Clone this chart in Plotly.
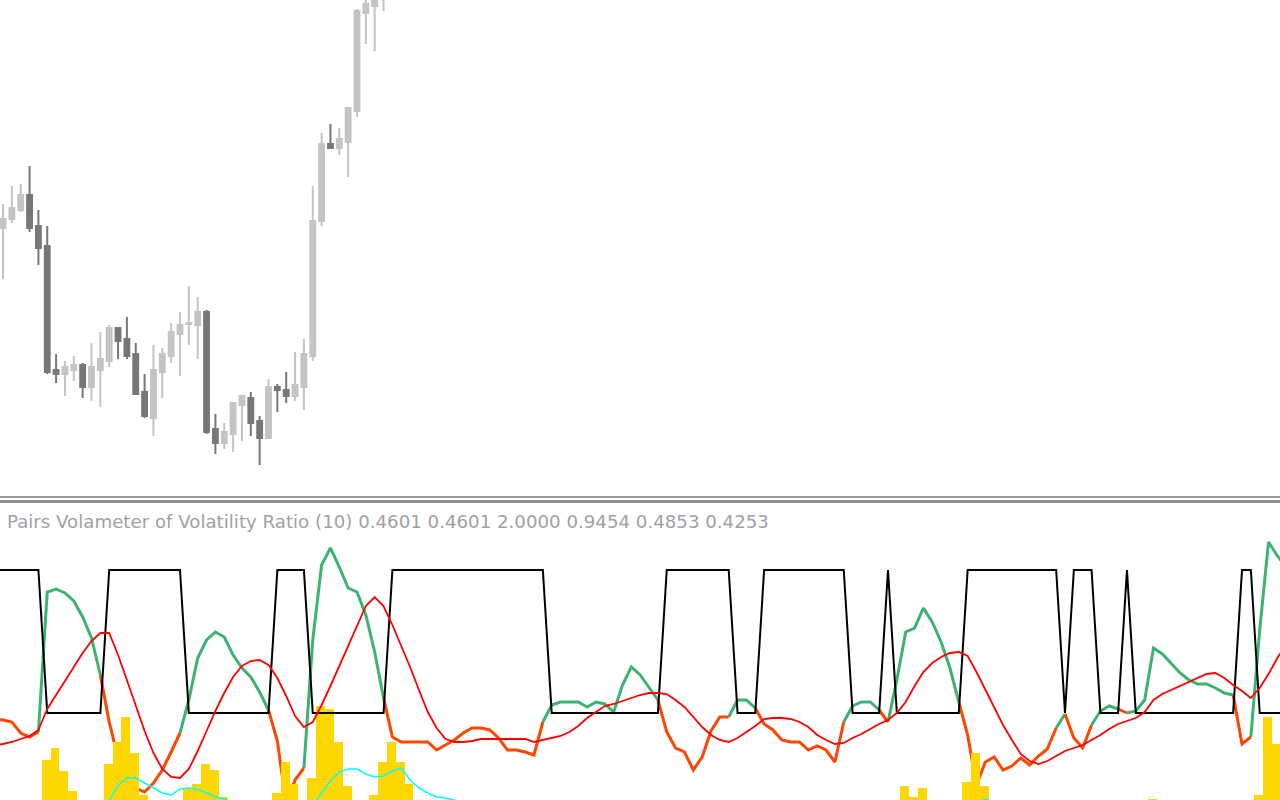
import plotly.graph_objects as go

# ---------------- data ----------------
# bar index -1 .. 145 (bars -1 and 145 sit just outside the window edges)
bars = list(range(-1, 146))
n_bars = len(bars)

# price candles (visible part of the main chart), bars 0..43
c_open = [1.1272, 1.1281, 1.1290, 1.1305, 1.1274, 1.1254, 1.1130, 1.1126, 1.1130, 1.1135,
          1.1113, 1.1130, 1.1139, 1.1172, 1.1161, 1.1146, 1.1108, 1.1082, 1.1128, 1.1144,
          1.1166, 1.1176, 1.1175, 1.1188, 1.1071, 1.1057, 1.1066, 1.1095, 1.1102, 1.1079,
          1.1062, 1.1113, 1.1110, 1.1104, 1.1113, 1.1144, 1.1279, 1.1356, 1.1352, 1.1358,
          1.1389, 1.1487, 1.1494, 1.1508]
c_high = [1.1296, 1.1314, 1.1316, 1.1334, 1.1290, 1.1274, 1.1146, 1.1139, 1.1144, 1.1137,
          1.1157, 1.1168, 1.1175, 1.1172, 1.1183, 1.1157, 1.1126, 1.1155, 1.1152, 1.1177,
          1.1188, 1.1214, 1.1203, 1.1190, 1.1086, 1.1077, 1.1097, 1.1104, 1.1108, 1.1084,
          1.1121, 1.1116, 1.1128, 1.1148, 1.1161, 1.1314, 1.1367, 1.1376, 1.1372, 1.1392,
          1.1491, 1.1505, 1.1512, 1.1530]
c_low = [1.1221, 1.1277, 1.1288, 1.1268, 1.1235, 1.1126, 1.1117, 1.1104, 1.1119, 1.1102,
         1.1099, 1.1093, 1.1133, 1.1141, 1.1141, 1.1106, 1.1082, 1.1064, 1.1102, 1.1137,
         1.1124, 1.1155, 1.1141, 1.1066, 1.1046, 1.1051, 1.1048, 1.1059, 1.1064, 1.1035,
         1.1062, 1.1088, 1.1097, 1.1099, 1.1090, 1.1139, 1.1274, 1.1352, 1.1345, 1.1323,
         1.1383, 1.1456, 1.1449, 1.1489]
c_close = [1.1281, 1.1292, 1.1305, 1.1272, 1.1252, 1.1128, 1.1126, 1.1133, 1.1135, 1.1113,
           1.1133, 1.1141, 1.1172, 1.1159, 1.1144, 1.1106, 1.1084, 1.1130, 1.1146, 1.1168,
           1.1175, 1.1177, 1.1188, 1.1068, 1.1057, 1.1068, 1.1097, 1.1104, 1.1077, 1.1062,
           1.1113, 1.1110, 1.1104, 1.1115, 1.1146, 1.1279, 1.1356, 1.1352, 1.1361, 1.1392,
           1.1489, 1.1496, 1.1502, 1.1520]

# indicator: regime (black step line)
H, L = 2.30, 0.87
regime = [H,
          H, H, H, H, H,
          L, L, L, L, L, L, L,
          H, H, H, H, H, H, H, H, H,
          L, L, L, L, L, L, L, L, L, L,
          H, H, H, H,
          L, L, L, L, L, L, L, L, L,
          H, H, H, H, H, H, H, H, H, H, H, H, H, H, H, H, H, H,
          L, L, L, L, L, L, L, L, L, L, L, L, L,
          H, H, H, H, H, H, H, H,
          L, L, L,
          H, H, H, H, H, H, H, H, H, H,
          L, L, L, L,
          H,
          L, L, L, L, L, L, L, L,
          H, H, H, H, H, H, H, H, H, H, H,
          L,
          H, H, H,
          L, L, L,
          H,
          L, L, L, L, L, L, L, L, L, L, L, L,
          H, H,
          L, L, L,
          L]

# indicator: main ratio line (green in low regime, orange-red in high regime)
ratio = [0.81,
         0.80, 0.78, 0.67, 0.63, 0.68, 2.08, 2.11, 2.07, 1.99, 1.83,
         1.62, 1.25, 0.78, 0.42, 0.25, 0.12, 0.08, 0.17, 0.30, 0.48,
         0.67, 1.00, 1.42, 1.60, 1.68, 1.63, 1.45, 1.32, 1.23, 1.08,
         0.90, 0.59, -0.04, 0.20, 0.32, 1.60, 2.35, 2.52, 2.33, 2.12,
         2.08, 1.85, 1.48, 1.02, 0.63, 0.58, 0.58, 0.58, 0.58, 0.50,
         0.55, 0.60, 0.67, 0.72, 0.72, 0.70, 0.62, 0.50, 0.50, 0.48,
         0.45, 0.78, 0.95, 0.98, 0.98, 0.98, 0.93, 0.98, 0.96, 0.88,
         1.15, 1.33, 1.25, 1.12, 1.00, 0.68, 0.52, 0.48, 0.30, 0.43,
         0.69, 0.83, 0.83, 1.00, 1.00, 0.92, 0.76, 0.70, 0.60, 0.58,
         0.58, 0.50, 0.54, 0.50, 0.38, 0.78, 0.94, 0.98, 0.98, 0.90,
         0.78, 1.20, 1.68, 1.72, 1.92, 1.78, 1.58, 1.32, 0.98, 0.65,
         0.15, 0.38, 0.43, 0.30, 0.34, 0.42, 0.35, 0.44, 0.51, 0.72,
         0.86, 0.62, 0.52, 0.75, 0.89, 0.94, 0.91, 0.87, 0.89, 1.00,
         1.52, 1.46, 1.36, 1.27, 1.20, 1.16, 1.16, 1.12, 1.07, 1.05,
         0.56, 0.63, 1.70, 2.58, 2.44,
         2.33]

# indicator: smoothed signal (thin red)
signal = [0.55,
          0.56, 0.58, 0.61, 0.64, 0.70, 0.91, 1.05, 1.19, 1.33, 1.47,
          1.59, 1.67, 1.67, 1.45, 1.20, 0.94, 0.69, 0.47, 0.31, 0.23,
          0.22, 0.31, 0.49, 0.69, 0.89, 1.07, 1.23, 1.34, 1.39, 1.40,
          1.35, 1.22, 1.04, 0.84, 0.73, 0.78, 0.95, 1.14, 1.34, 1.55,
          1.74, 1.94, 2.03, 1.94, 1.75, 1.54, 1.33, 1.10, 0.88, 0.72,
          0.61, 0.58, 0.58, 0.59, 0.61, 0.61, 0.61, 0.61, 0.61, 0.61,
          0.58, 0.60, 0.62, 0.64, 0.68, 0.74, 0.82, 0.88, 0.94, 0.96,
          0.99, 1.02, 1.05, 1.07, 1.07, 1.06, 1.00, 0.93, 0.83, 0.73,
          0.65, 0.60, 0.58, 0.62, 0.68, 0.74, 0.81, 0.82, 0.82, 0.81,
          0.78, 0.73, 0.65, 0.60, 0.56, 0.57, 0.62, 0.66, 0.71, 0.76,
          0.80, 0.87, 0.98, 1.14, 1.28, 1.37, 1.43, 1.47, 1.48, 1.44,
          1.28, 1.10, 0.93, 0.75, 0.60, 0.46, 0.39, 0.36, 0.39, 0.44,
          0.49, 0.52, 0.55, 0.60, 0.65, 0.71, 0.76, 0.79, 0.82, 0.88,
          1.00, 1.06, 1.10, 1.14, 1.18, 1.22, 1.26, 1.27, 1.22, 1.15,
          1.09, 1.02, 1.12, 1.26, 1.42,
          1.56]

# indicator: volume line (cyan, mostly below the visible window)
volume_line = [-0.24,
               -0.25, -0.27, -0.28, -0.27, -0.24, -0.22, -0.20, -0.20, -0.21, -0.19,
               -0.15, -0.10, -0.01, 0.15, 0.22, 0.22, 0.17, 0.12, 0.07, 0.05,
               0.11, 0.12, 0.11, 0.07, 0.03, 0.01, -0.03, -0.08, -0.12, -0.15,
               -0.16, -0.15, -0.13, -0.12, -0.12, -0.07, 0.07, 0.19, 0.28, 0.31,
               0.31, 0.26, 0.23, 0.24, 0.29, 0.32, 0.20, 0.12, 0.07, 0.03,
               0.02, 0.00, -0.05, -0.08, -0.11, -0.13, -0.15, -0.16, -0.17, -0.17,
               -0.16, -0.14, -0.13, -0.13, -0.14, -0.15, -0.15, -0.14, -0.12, -0.11,
               -0.11, -0.12, -0.14, -0.16, -0.17, -0.15, -0.12, -0.10, -0.09, -0.10,
               -0.12, -0.14, -0.15, -0.16, -0.17, -0.17, -0.15, -0.13, -0.12, -0.12,
               -0.13, -0.14, -0.14, -0.13, -0.11, -0.10, -0.11, -0.13, -0.14, -0.13,
               -0.11, -0.09, -0.08, -0.09, -0.10, -0.11, -0.11, -0.10, -0.08, -0.05,
               -0.03, 0.01, -0.03, -0.07, -0.10, -0.12, -0.14, -0.15, -0.15, -0.14,
               -0.13, -0.12, -0.12, -0.13, -0.14, -0.15, -0.15, -0.14, -0.12, -0.10,
               -0.08, -0.08, -0.09, -0.11, -0.12, -0.13, -0.13, -0.12, -0.11, -0.10,
               -0.08, -0.06, -0.05, -0.04, -0.04,
               -0.03]

# indicator: histogram (gold)
hist = [0,
        0, 0, 0, 0, 0, 0.40, 0.52, 0.29, 0.09, 0,
        0, 0, 0.36, 0.58, 0.83, 0.47, 0.05, 0, 0, 0,
        0, 0.12, 0.16, 0.36, 0.30, 0.03, 0, 0, 0, 0,
        0, 0.07, 0.38, 0.16, 0, 0.22, 0.94, 0.91, 0.58, 0.14,
        0, 0, 0.05, 0.38, 0.58, 0.38, 0.16, 0, 0, 0,
        0, 0, 0, 0, 0, 0, 0, 0, 0, 0,
        0, 0, 0, 0, 0, 0, 0, 0, 0, 0,
        0, 0, 0, 0, 0, 0, 0, 0, 0, 0,
        0, 0, 0, 0, 0, 0, 0, 0, 0, 0,
        0, 0, 0, 0, 0, 0, 0, 0, 0, 0,
        0, 0, 0.14, 0.03, 0.12, 0, 0, 0, 0, 0.18,
        0.47, 0.14, 0, 0, 0, 0, 0, 0, 0, 0,
        0, 0, 0, 0, 0, 0, 0, 0, 0, 0,
        0.01, 0, 0, 0, 0, 0, 0, 0, 0, 0,
        0, 0, 0.05, 0.83, 0.56,
        0]

title_text = "Pairs Volameter of Volatility Ratio (10)"
status_values = ["0.4601", "0.4601", "2.0000", "0.9454", "0.4853", "0.4253"]

# ---------------- figure ----------------
W, HGT = 1280, 800
x_range = [-0.339, 144.294]

LIGHT = "#C4C4C4"
DARK = "#777777"
GREEN = "#3CB371"
ORANGE = "#FF4500"

fig = go.Figure()

ncand = len(c_open)
cand_x = bars[1:1 + ncand]
fig.add_trace(go.Candlestick(
    x=cand_x, open=c_open, high=c_high, low=c_low, close=c_close,
    increasing=dict(line=dict(color=LIGHT, width=2), fillcolor=LIGHT),
    decreasing=dict(line=dict(color=DARK, width=2), fillcolor=DARK),
    whiskerwidth=0, xaxis="x", yaxis="y", showlegend=False, hoverinfo="skip"))


def coloured_segments(high_state):
    xs, ys = [], []
    last = None
    for k in range(1, n_bars):
        is_high = regime[k] > 1.5
        if is_high == high_state:
            if last != k - 1:
                if xs:
                    xs.append(None)
                    ys.append(None)
                xs.append(bars[k - 1])
                ys.append(ratio[k - 1])
            xs.append(bars[k])
            ys.append(ratio[k])
            last = k
    return xs, ys


gx, gy = coloured_segments(False)
ox, oy = coloured_segments(True)
fig.add_trace(go.Scatter(x=gx, y=gy, mode="lines", line=dict(color=GREEN, width=3),
                         xaxis="x2", yaxis="y2", showlegend=False, hoverinfo="skip",
                         connectgaps=False))
fig.add_trace(go.Scatter(x=ox, y=oy, mode="lines", line=dict(color=ORANGE, width=3),
                         xaxis="x2", yaxis="y2", showlegend=False, hoverinfo="skip",
                         connectgaps=False))

fig.add_trace(go.Bar(x=bars, y=hist, width=1, offset=-0.62,
                     marker=dict(color="#FFD700", line=dict(width=0)),
                     xaxis="x2", yaxis="y3", showlegend=False, hoverinfo="skip"))
fig.add_trace(go.Scatter(x=bars, y=regime, mode="lines", line=dict(color="#000000", width=2),
                         xaxis="x2", yaxis="y3", showlegend=False, hoverinfo="skip"))
fig.add_trace(go.Scatter(x=bars, y=signal, mode="lines", line=dict(color="#FF0000", width=1.8),
                         xaxis="x2", yaxis="y3", showlegend=False, hoverinfo="skip"))
fig.add_trace(go.Scatter(x=bars, y=volume_line, mode="lines", line=dict(color="#00FFFF", width=1.5),
                         xaxis="x2", yaxis="y3", showlegend=False, hoverinfo="skip"))

top_dom = [1 - 494 / HGT, 1]
bot_dom = [0, 1 - 503 / HGT]

fig.update_layout(
    width=W, height=HGT,
    margin=dict(l=0, r=0, t=0, b=0, pad=0),
    paper_bgcolor="white", plot_bgcolor="white",
    showlegend=False, bargap=0, boxgap=0.22,
    xaxis=dict(domain=[0, 1], range=x_range, visible=False, anchor="y",
               rangeslider=dict(visible=False), fixedrange=True),
    yaxis=dict(domain=top_dom, range=[1.1006, 1.1500], visible=False, anchor="x", fixedrange=True),
    xaxis2=dict(domain=[0, 1], range=x_range, visible=False, anchor="y2", fixedrange=True),
    yaxis2=dict(domain=bot_dom, range=[0, 2.97], visible=False, anchor="x2", fixedrange=True),
    yaxis3=dict(range=[0, 2.97], visible=False, anchor="x2", overlaying="y2", fixedrange=True),
    shapes=[
        dict(type="line", xref="paper", yref="paper", x0=0, x1=1,
             y0=1 - 497 / HGT, y1=1 - 497 / HGT, line=dict(color="#9A9A9A", width=2)),
        dict(type="line", xref="paper", yref="paper", x0=0, x1=1,
             y0=1 - 501.5 / HGT, y1=1 - 501.5 / HGT, line=dict(color="#8E9196", width=3)),
    ],
    annotations=[dict(
        text=title_text + " " + " ".join(status_values),
        xref="paper", yref="paper", x=5 / W, y=1 - 521 / HGT,
        xanchor="left", yanchor="middle", showarrow=False,
        font=dict(family="DejaVu Sans", size=18.2, color="#A0A0A6"))],
)

fig.write_html("out.html", config={"displayModeBar": False, "staticPlot": True},
               post_script="document.body.style.margin='0';document.body.style.padding='0';")
